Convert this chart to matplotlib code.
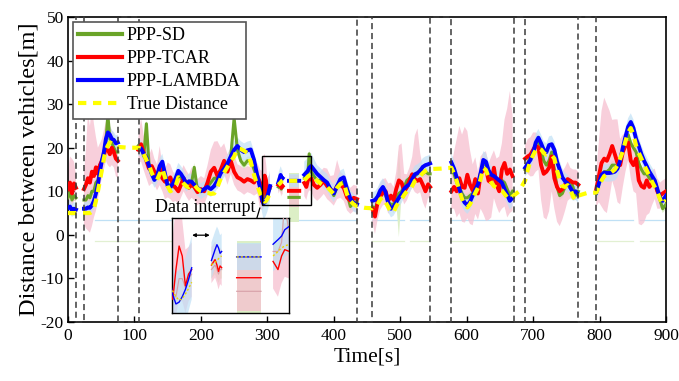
import numpy as np
import matplotlib
matplotlib.use('Agg')
import matplotlib.pyplot as plt
from matplotlib.patches import Rectangle

plt.rcParams['font.family'] = ['Liberation Serif', 'DejaVu Serif']
plt.rcParams['axes.unicode_minus'] = False
N = float('nan')

# ---------------- data (time in s, distance in m) ----------------
time = [0, 3, 6, 9, 12,
        18,
        24, 27, 30, 33, 36, 39, 42, 45, 48, 51, 54, 57, 60, 63, 66, 69, 72, 75,
        90,
        106, 110, 114, 118, 122, 126, 130, 134, 138, 142, 146, 150, 154, 158, 162, 166, 170, 174, 178, 182,
        186, 190, 195, 200, 205, 210, 215, 220, 225, 230, 235, 240, 245, 250, 255, 260, 265, 270, 275, 280,
        285, 289, 292, 294, 296, 298, 300, 302, 304,
        310,
        316.5, 318.8, 320, 321, 322, 323,
        327,
        332.5, 340, 348,
        352,
        355.6, 358.7, 361, 363, 366, 370, 375, 380, 385, 390, 395, 400, 405, 410, 415, 420, 425, 430, 435,
        447,
        458, 462, 466, 470, 474, 478, 482, 486, 490, 494, 498, 502, 506, 510, 514, 518, 522, 526, 530, 534, 538, 542, 545,
        561,
        577, 581, 585, 589, 593, 597, 601, 605, 609, 613, 617, 621, 625, 629, 633, 637, 641, 645, 649, 653, 657, 661, 665, 669,
        679,
        688, 692, 696, 700, 704, 708, 712, 716, 720, 724, 728, 732, 736, 740, 744, 748, 752, 756, 760, 764, 768,
        781,
        795, 799, 803, 807, 811, 815, 819, 823, 827, 831, 835, 839, 843, 847, 851, 855, 859, 863, 867, 871, 875, 879, 883, 887, 891, 895, 900]

true_dist = [5.0, 5.0, 5.0, 5.0, 5.0,
             5.0,
             5.0, 5.0, 5.0, 5.0, 5.3, 6.0, 7.8, 10.0, 12.4, 15.0, 17.5, 19.5, 20.5, 21.2, 21.0, 20.8, 20.5, 20.2,
             20.0,
             20.0, 19.8, 18.6, 17.2, 16.0, 14.2, 13.0, 12.6, 14.0, 15.2, 13.2, 11.2, 10.0, 10.4, 11.2, 13.2, 12.6, 11.8, 11.2, 10.9,
             11.4, 11.5, 10.6, 10.0, 9.8, 9.7, 9.4, 9.5, 11.0, 13.0, 14.3, 15.6, 16.8, 18.0, 19.8, 19.7, 19.3, 18.8, 16.8, 13.8,
             11.3, 9.6, 8.6, 8.0, 7.6, 7.8, 8.3, 8.9, 9.6,
             N,
             11.5, 11.8, 12.0, 12.2, 12.4, 12.5,
             N,
             12.4, 12.4, 12.4,
             N,
             12.5, 13.0, 13.4, 13.6, 13.8, 13.2, 12.4, 11.8, 11.3, 11.0, 10.2, 9.4, 10.8, 11.7, 12.0, 9.3, 7.8, 7.0, 6.6,
             6.2,
             6.1, 6.6, 7.0, 8.2, 8.6, 7.5, 6.4, 5.2, 5.2, 6.6, 7.5, 8.2, 9.2, 10.0, 10.2, 11.2, 12.4, 12.8, 13.5, 14.2, 14.7, 15.0, 15.1,
             15.2,
             15.4, 14.0, 12.4, 10.2, 8.3, 7.0, 6.3, 7.0, 8.3, 9.6, 10.8, 12.8, 15.4, 14.9, 13.2, 12.0, 11.2, 10.8, 10.5, 10.2, 9.4, 8.6, 8.2, 8.8,
             10.0,
             12.5, 15.0, 17.0, 18.3, 19.5, 20.0, 19.6, 18.8, 18.4, 18.5, 18.3, 17.5, 14.8, 12.8, 11.2, 11.0, 11.4, 10.5, 8.8, 8.0, 9.0,
             9.6,
             9.7, 11.0, 12.5, 13.5, 13.8, 14.0, 14.5, 15.0, 16.0, 17.5, 19.2, 21.5, 23.5, 24.5, 23.0, 20.5, 18.8, 17.5, 16.0, 14.8, 13.5, 12.2, 11.0, 9.8, 8.2, 7.0, 8.0]

ppp_lambda = [6.2, 6.5, 5.6, 6.0, 5.8,
              N,
              6.0, 6.0, 6.3, 6.2, 6.8, 7.8, 9.5, 11.5, 14.5, 17.0, 19.0, 22.0, 23.5, 23.0, 22.0, 21.8, 21.0, 21.2,
              N,
              20.0, 19.8, 18.6, 17.7, 15.8, 14.0, 12.6, 13.5, 15.8, 16.8, 14.0, 11.2, 11.0, 11.8, 13.0, 14.7, 14.0, 13.0, 11.7, 12.3,
              12.2, 11.5, 10.8, 10.0, 10.5, 11.0, 10.5, 11.2, 12.5, 14.2, 15.2, 16.4, 18.0, 19.5, 20.4, 19.5, 19.0, 19.4, 19.6, 17.2,
              13.5, 10.9, 8.2, 7.2, 7.4, 8.0, 8.8, 9.9, 11.2,
              N,
              12.0, 13.2, 13.75, 13.4, 12.8, 13.0,
              N,
              12.4, 12.4, 12.4,
              N,
              13.8, 14.3, 14.7, 15.4, 15.8, 15.0, 14.0, 13.3, 12.6, 12.0, 10.5, 9.5, 11.2, 12.8, 13.2, 10.5, 8.3, 7.3, 7.0,
              N,
              7.8, 8.0, 8.8, 10.2, 11.0, 9.8, 7.2, 6.0, 6.4, 7.5, 8.5, 9.3, 10.6, 11.2, 11.6, 12.8, 13.9, 14.2, 14.7, 15.6, 16.0, 16.2, 16.4,
              N,
              16.6, 15.2, 13.2, 10.6, 8.5, 7.4, 6.8, 7.6, 9.0, 10.4, 11.6, 14.2, 17.2, 16.8, 14.8, 13.8, 13.5, 13.0, 12.5, 12.0, 10.5, 9.2, 7.8, 8.5,
              N,
              15.4, 16.3, 17.2, 18.8, 21.2, 22.3, 21.0, 19.5, 19.0, 20.6, 20.8, 19.5, 16.8, 15.0, 13.2, 12.3, 11.8, 10.8, 9.8, 10.0, 9.3,
              N,
              9.7, 11.8, 13.8, 14.3, 14.2, 14.2, 14.3, 14.5, 15.2, 17.0, 20.0, 22.5, 24.8, 25.9, 24.5, 22.0, 20.4, 18.5, 17.0, 15.8, 14.5, 13.5, 12.5, 10.5, 8.5, 7.8, 9.0]

ppp_tcar = [10.5, 12.0, 9.5, 11.8, 10.8,
            N,
            10.5, 11.5, 13.0, 12.0, 14.5, 13.5, 15.5, 14.0, 16.0, 17.0, 18.0, 20.5, 19.5, 18.5, 20.0, 19.0, 17.5, 17.0,
            N,
            19.5, 20.8, 18.8, 17.0, 15.2, 15.8, 14.5, 13.2, 15.4, 13.0, 12.2, 12.6, 13.2, 11.5, 10.8, 10.0, 11.5, 13.0, 11.8, 10.8,
            11.5, 11.0, 9.8, 10.5, 10.0, 12.0, 14.5, 15.4, 13.5, 15.0, 17.0, 14.5, 17.0, 14.5, 13.2, 12.8, 12.2, 12.8, 12.5, 12.0,
            13.5, 12.0, 7.7, 11.0, 13.6, 12.5, 9.2, 10.5, 11.0,
            N,
            11.5, 12.1, 11.5, 10.8, 11.4, 11.2,
            N,
            10.1, 10.1, 10.1,
            N,
            11.9, 11.0, 12.5, 13.2, 13.0, 11.5, 10.8, 11.5, 12.4, 11.2, 10.5, 9.7, 11.2, 11.5, 10.8, 8.6, 7.8, 8.5, 8.2,
            N,
            6.0, 4.2, 7.5, 8.8, 9.8, 10.0, 7.8, 9.0, 8.0, 10.5, 12.5, 12.0, 10.0, 10.9, 12.5, 13.9, 12.8, 12.4, 12.8, 11.5, 10.0, 11.6, 11.0,
            N,
            10.0, 11.0, 10.0, 13.0, 11.0, 10.8, 13.8, 11.5, 10.2, 12.8, 9.5, 14.0, 14.8, 15.2, 12.4, 12.0, 15.4, 11.5, 10.0, 15.0, 16.5, 14.0, 15.0, 13.5,
            N,
            17.5, 18.0, 18.4, 19.5, 20.5, 20.0, 16.0, 14.0, 14.5, 15.4, 18.0, 13.0, 11.0, 10.0, 10.5, 11.5, 12.8, 12.4, 12.0, 12.0, 11.5,
            N,
            10.5, 13.5, 16.5, 17.5, 17.0, 18.5, 20.4, 18.5, 16.5, 16.0, 19.0, 20.5, 21.2, 17.0, 16.0, 17.5, 12.5, 11.2, 10.8, 12.5, 11.0, 11.8, 12.2, 10.0, 9.0, 9.5, 10.0]

ppp_sd = [8.5, 10.0, 8.0, 9.0, 8.5,
          N,
          8, 8, 9, 8.5, 10, 10, 12, 12.5, 15, 17, 19, 21.5, 27.5, 22, 21, 20, 19, 19,
          N,
          20.5, 20, 18, 25.5, 16, 15, 13.5, 13, 15.5, 16, 13, 11.5, 11.5, 11, 12, 13.5, 13, 12.5, 11, 11.5,
          12, 15.5, 10, 10, 10.5, 11, 12, 13, 13, 14.5, 16, 16, 18, 26.8, 19.5, 17, 16, 17, 17, 15,
          13, 11, 8, 8, 10, 10, 9, 10, 10.5,
          N,
          11, 11.5, 11, 10.5, 11, 11,
          N,
          8.6, 8.6, 8.6,
          N,
          13, 13, 14, 18.6, 14.5, 13.5, 12.5, 12.5, 12.5, 11.5, 10.5, 9, 11, 12, 12, 9.5, 6.5, 7.5, 7.5,
          N,
          6.5, 6, 7.5, 9, 10, 9, 7.5, 7, 7, 8.5, 9.5, 10, 11, 12.5, 13, 13.5, 13.5, 14, 15, 14, 14.5, 14, 14,
          N,
          15, 14, 12, 11, 9.5, 8.5, 8.5, 9, 9.5, 11, 11.5, 14, 16.5, 16, 14, 13, 13, 12, 11, 12.5, 12, 10.5, 9, 10,
          N,
          15, 16.5, 18, 19, 21, 21.5, 19.5, 17, 16, 17, 19, 15, 11, 9, 9.5, 11, 12, 12.5, 11, 9, 10,
          N,
          9.5, 11.5, 13.5, 14.5, 14.5, 15, 16, 16, 15.5, 16.5, 19.5, 21.5, 23, 21, 20, 19, 16.5, 15, 14, 14, 13, 12.5, 12.5, 10, 8, 6, 7]

# pink (TCAR) band: distance above / below the TCAR curve
tcar_up = [4, 6, 8, 5, 3,
           0,
           3.5, 8, 15, 13, 15, 12, 7, 6, 5, 5, 6, 5.5, 7, 6.5, 4, 4, 3.5, 3,
           0,
           3, 6, 4, 5, 3, 4, 3, 3, 5, 3, 3, 4, 3, 3, 3, 4, 3, 3, 3, 3,
           4, 3, 3, 3, 3, 4, 5, 6, 8, 5, 4, 4, 3, 4, 3, 3, 3, 3, 3, 3,
           3, 3, 7, 7, 5, 4, 4, 3, 3,
           0,
           2, 2, 2, 2, 2, 2,
           0,
           3.7, 3.7, 3.7,
           0,
           2, 2, 3, 3, 3, 3, 3, 3, 3, 4, 3, 4, 6, 3, 3, 3, 3, 3, 3,
           0,
           4, 3, 3, 3, 3, 3, 4, 3, 3, 4, 8, 9, 4, 3, 3, 4, 10, 12, 6, 4, 4, 3, 3,
           0,
           6, 8, 12, 12, 12, 14, 10, 8, 6, 5, 5, 4, 4, 4, 4, 6, 4, 6, 8, 6, 10, 15, 18, 14,
           0,
           3, 4, 4, 4, 3, 3, 5, 6, 5, 4, 3, 3, 4, 4, 4, 4, 4, 3, 3, 3, 3,
           0,
           4, 8, 12, 14, 13, 10, 6, 8, 10, 6, 4, 3, 3, 4, 5, 4, 4, 4, 5, 4, 3, 3, 3, 3, 3, 3, 3]
tcar_dn = [3, 5, 4, 4, 3,
           0,
           8, 10, 12, 11.5, 12.5, 9.5, 10, 6, 5, 4, 3, 3.5, 3.5, 3, 4, 3.5, 4, 4,
           0,
           3, 4, 4, 4, 4, 4, 3, 3, 4, 3, 4, 4, 5, 4, 3, 3, 3, 3, 3, 3,
           3, 3, 3, 3, 3, 3, 3, 4, 3, 3, 3, 3, 3, 3, 3, 3, 3, 3, 3, 3,
           4, 6, 2, 5, 6, 5, 3, 3, 3,
           0,
           2, 2, 2, 2, 2, 2,
           0,
           3.7, 3.7, 3.7,
           0,
           3, 3, 3, 3, 3, 3, 3, 3, 3, 3, 3, 3, 3, 3, 3, 3, 3, 3, 3,
           0,
           3, 4, 4, 3, 3, 3, 3, 3, 3, 3, 3, 3, 3, 3, 3, 3, 3, 3, 3, 4, 4, 3, 3,
           0,
           4, 5, 6, 8, 8, 8, 10, 9, 8, 8, 6, 8, 10, 12, 9, 8, 7, 5, 5, 9, 10, 10, 10, 8,
           0,
           3, 4, 5, 6, 6, 5, 8, 10, 11, 10, 8, 7, 8, 8, 7, 6, 5, 4, 4, 4, 3,
           0,
           4, 6, 10, 12, 12, 10, 8, 8, 9, 9, 8, 6, 4, 4, 6, 8, 10, 9, 8, 8, 6, 5, 4, 4, 3, 3, 3]

# light-blue (LAMBDA) band half width
lambda_w = [1.5, 1.5, 1.5, 1.5, 1.5,
            0,
            1.5, 1.5, 1.5, 1.5, 1.5, 1.8, 2, 2, 2, 2, 2, 2, 2, 2, 2, 1.8, 1.8, 1.8,
            0,
            1.8, 1.8, 1.8, 1.8, 1.8, 1.8, 1.8, 1.8, 1.8, 1.8, 1.8, 1.8, 1.8, 1.8, 1.8, 1.8, 1.8, 1.8, 1.8, 1.8,
            1.8, 1.8, 1.8, 1.8, 1.8, 1.8, 1.8, 1.8, 1.8, 2, 2, 2, 2, 2, 2, 2, 2, 2, 2, 2,
            2, 2.5, 3, 3.5, 3.5, 3.5, 3.5, 3.5, 3.5,
            0,
            2, 2, 2, 2, 2, 2,
            0,
            1.5, 1.5, 1.5,
            0,
            3, 3, 3, 3, 3, 2.5, 2, 2, 2, 2, 2, 2, 2, 2, 2, 2, 2, 2, 2,
            0,
            2, 2, 2, 2, 2, 2, 2, 2, 2, 2, 2, 2, 2, 2, 2, 2, 2, 2, 2, 2, 2, 2, 2,
            0,
            2, 2, 2, 2, 2, 2, 2, 2, 2, 2, 2, 2, 2, 2, 2, 2, 2, 2, 2, 2, 2, 2, 2, 2,
            0,
            2, 2, 2, 2, 2, 2, 2, 2, 2, 2, 2, 2, 2, 2, 2, 2, 2, 2, 2, 2, 2,
            0,
            2, 2, 2, 2, 2, 2, 2, 2, 2, 2, 2, 2, 2, 2, 2, 2, 2, 2, 2, 2, 2, 2, 2, 2, 2, 2, 2]

# light-green (SD) band half width
sd_w = [1, 1, 1, 1, 1,
        0,
        1, 1, 1, 1, 1, 1, 1, 1, 1, 1, 1, 1, 1, 1, 1, 1, 1, 1,
        0,
        1, 1, 1, 1, 1, 1, 1, 1, 1, 1, 1, 1, 1, 1, 1, 1, 1, 1, 1, 1,
        1, 1, 1, 1, 1, 1, 1, 1, 1, 1, 1, 1, 1, 1, 1, 1, 1, 1, 1, 1,
        1, 1, 1, 1, 1, 1, 1, 1, 1,
        0,
        1, 1, 1, 1, 1, 1,
        0,
        5.6, 5.6, 5.6,
        0,
        1, 1, 1, 1, 1, 1, 1, 1, 1, 1, 1, 1, 1, 1, 1, 1, 1, 1, 1,
        0,
        1, 1, 1, 1, 1, 1, 1, 1, 1, 1, 10, 1, 1, 1, 1, 1, 1, 1, 1, 1, 1, 1, 1,
        0,
        1, 1, 1, 1, 1, 1, 1, 1, 1, 1, 1, 1, 1, 1, 1, 1, 1, 1, 1, 1, 1, 1, 1, 1,
        0,
        1, 1, 1, 1, 1, 1, 1, 1, 1, 1, 1, 1, 1, 1, 1, 1, 1, 1, 1, 1, 1,
        0,
        1, 1, 1, 1, 1, 1, 1, 1, 1, 1, 1, 1, 1, 1, 1, 1, 1, 1, 1, 1, 1, 1, 1, 1, 1, 1, 1]

# data-interruption intervals (dashed boxes)
gaps = [(11.8, 23.5), (75.8, 106.5), (435.6, 457.8), (545.3, 576.7), (671.4, 687.7), (768.2, 794.4)]
# faint baseline traces of the bands
base_spans = [(40, 434), (457, 505), (515, 543), (575, 668), (796, 851), (861, 900)]
base_lambda = 3.3
base_sd = -1.3
# zoomed region
zoom_x = (291.5, 365.7)
zoom_y_box = (6.8, 18.1)
zoom_y_inset = (6.2, 16.7)

lens = {len(a) for a in [time, true_dist, ppp_lambda, ppp_tcar, ppp_sd, tcar_up, tcar_dn, lambda_w, sd_w]}
assert len(lens) == 1, lens

t = np.array(time, float)
tr = np.array(true_dist, float)
lam = np.array(ppp_lambda, float)
tc = np.array(ppp_tcar, float)
sd = np.array(ppp_sd, float)
tu = np.array(tcar_up, float)
td = np.array(tcar_dn, float)
lw_ = np.array(lambda_w, float)
sw = np.array(sd_w, float)

C_SD = '#6aa428'
C_TC = '#ff0000'
C_LA = '#0000ff'
C_TR = '#ffff00'
C_PINK = '#f6bfd0'
C_LBLUE = '#bfe0f6'
C_LGREEN = '#dcefc6'


def draw(ax, inset=False):
    ax.fill_between(t, sd - sw, sd + sw, color=C_LGREEN, lw=0, zorder=1)
    ax.fill_between(t, tc - td, tc + tu, color=C_PINK, alpha=0.75, lw=0, zorder=1.2)
    ax.fill_between(t, lam - lw_, lam + lw_, color=C_LBLUE, alpha=0.7, lw=0, zorder=1.4)
    if inset:
        ax.plot(t, sd, color='#d7a0a8', lw=0.8, zorder=3)
        ax.plot(t, tc, color=C_TC, lw=1.0, zorder=4)
        ax.plot(t, lam, color=C_LA, lw=1.0, zorder=5)
        ax.plot(t, tr, color='#e8d800', lw=1.0, ls=(0, (1.5, 1.5)), zorder=6)
    else:
        ax.plot(t, sd, color=C_SD, lw=2.2, zorder=3)
        ax.plot(t, tc, color=C_TC, lw=2.8, zorder=4)
        ax.plot(t, lam, color=C_LA, lw=2.8, zorder=5)
        ax.plot(t, tr, color=C_TR, lw=3.0, dashes=(2.0, 1.6), zorder=6)


fig = plt.figure(figsize=(6.79, 3.81), dpi=100)
ax = fig.add_axes([68 / 679, 59 / 381, 598 / 679, 305 / 381])
draw(ax)

for a, b in base_spans:
    ax.plot([a, b], [base_lambda, base_lambda], color='#bfe0f5', lw=0.9, zorder=0.9)
    ax.plot([a, b], [base_sd, base_sd], color='#e2f0d2', lw=0.9, zorder=0.9)

for a, b in gaps:
    ax.add_patch(Rectangle((a, -20), b - a, 70, fill=False, ls=(0, (4, 2.5)),
                           ec='#3a3a3a', lw=1.1, zorder=7, clip_on=False))

ax.add_patch(Rectangle((zoom_x[0], zoom_y_box[0]), zoom_x[1] - zoom_x[0], zoom_y_box[1] - zoom_y_box[0],
                       fill=False, ec='black', lw=1.0, zorder=8))

ax.set_xlim(0, 900)
ax.set_ylim(-20, 50)
ax.set_xticks(range(0, 901, 100))
ax.set_yticks(range(-20, 51, 10))
ax.tick_params(direction='in', length=4, width=1, labelsize=12.5, top=False, right=False)
ax.tick_params(axis='x', pad=4)
ax.tick_params(axis='y', pad=3)
for s in ax.spines.values():
    s.set_linewidth(1.2)
ax.set_xlabel('Time[s]', fontsize=15.5, labelpad=3)
ax.set_ylabel('Distance between vehicles[m]', fontsize=17.5, labelpad=1)

ax.plot([], [], color=C_SD, lw=3, label='PPP-SD')
ax.plot([], [], color=C_TC, lw=3, label='PPP-TCAR')
ax.plot([], [], color=C_LA, lw=3, label='PPP-LAMBDA')
ax.plot([], [], color=C_TR, lw=3, dashes=(2.0, 1.6), label='True Distance')
h, l = ax.get_legend_handles_labels()
leg = ax.legend(h[-4:], l[-4:], loc='upper left', bbox_to_anchor=(0.008, 0.984), borderaxespad=0,
                fontsize=13, fancybox=False, edgecolor='#555555', framealpha=1,
                handlelength=2.4, handletextpad=0.3, labelspacing=0.33, borderpad=0.3)
leg.get_frame().set_linewidth(1.2)
leg.set_zorder(10)

ax.text(207, 6.2, 'Data interrupt', fontsize=13, ha='center', va='center', zorder=9)
ax.annotate('', xy=(270, -3.5), xytext=(290, 6.8),
            arrowprops=dict(arrowstyle='-|>', color='black', lw=0.9, mutation_scale=8), zorder=9)

ins = fig.add_axes([172 / 679, 68 / 381, 117 / 679, 95 / 381])
ins.set_zorder(9)
ins.set_facecolor('white')
draw(ins, inset=True)
ins.set_xlim(*zoom_x)
ins.set_ylim(*zoom_y_inset)
ins.set_xticks([])
ins.set_yticks([])
for s in ins.spines.values():
    s.set_linewidth(1.0)
ins.annotate('', xy=(302.5, 14.8), xytext=(317.2, 14.8),
             arrowprops=dict(arrowstyle='<|-|>', color='black', lw=0.9, mutation_scale=5))

fig.savefig('out.png', dpi=100)
